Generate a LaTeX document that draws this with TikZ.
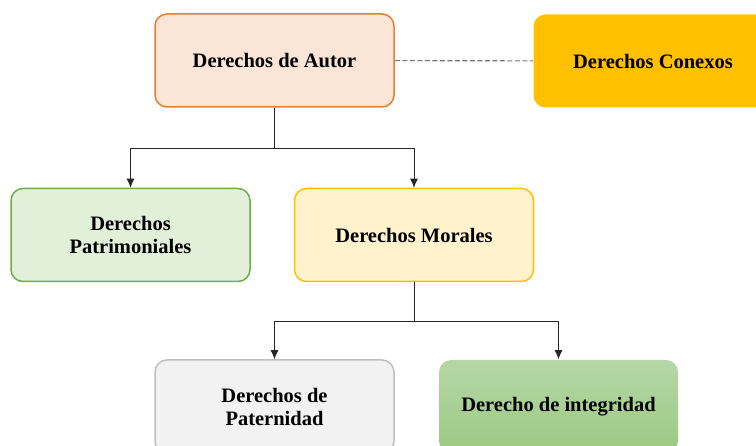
\documentclass[tikz,border=0pt]{standalone}
\usepackage{fontspec}
\setmainfont{Liberation Serif}
\usetikzlibrary{arrows.meta,positioning,calc}
\definecolor{autorfill}{HTML}{FBE5D6}
\definecolor{autordraw}{HTML}{ED7D31}
\definecolor{conexosfill}{HTML}{FFC000}
\definecolor{patrifill}{HTML}{E2F0D9}
\definecolor{patridraw}{HTML}{70AD47}
\definecolor{moralfill}{HTML}{FFF2CC}
\definecolor{moraldraw}{HTML}{FFC000}
\definecolor{paterfill}{HTML}{F2F2F2}
\definecolor{paterdraw}{HTML}{BFBFBF}
\definecolor{integtop}{HTML}{B5D7A6}
\definecolor{integbot}{HTML}{9CC983}
\definecolor{lineagray}{HTML}{767676}
\tikzset{
    derecho/.style={rectangle, rounded corners=12pt, line width=1.5pt, minimum width=239pt, minimum height=93pt, align=center, font=\fontsize{20.5}{23}\selectfont\bfseries},
    autorbox/.style={derecho, draw=autordraw, fill=autorfill},
    conexobox/.style={derecho, fill=conexosfill},
    patribox/.style={derecho, draw=patridraw, fill=patrifill},
    moralbox/.style={derecho, draw=moraldraw, fill=moralfill},
    paterbox/.style={derecho, draw=paterdraw, fill=paterfill},
    integbox/.style={derecho, top color=integtop, bottom color=integbot},
    connection/.style={line width=0.9pt, color=black!85, -{Latex[length=9pt,width=8pt]}},
    relacion/.style={line width=1.1pt, dash pattern=on 5pt off 2.5pt, color=lineagray}
}
\begin{document}
\begin{tikzpicture}[x=1pt, y=-1pt]
    \useasboundingbox (0,0) rectangle (756,446);
    % Top level
    \node[autorbox] (autor) at (274.5,60.5) {Derechos de Autor};
    \node[conexobox] (conexos) at (653,61) {Derechos Conexos};

    % Second level
    \node[patribox] (patri) at (130.5,235) {Derechos\\Patrimoniales};
    \node[moralbox] (moral) at (414,235) {Derechos Morales};

    % Third level
    \node[paterbox] (pater) at (274.5,406.5) {Derechos de\\Paternidad};
    \node[integbox] (integ) at (558.5,406.5) {Derecho de integridad};

    % Branch points
    \coordinate (split1) at (274.5,148);
    \coordinate (split2) at (414,321);

    % Connections
    \draw[relacion] (autor) -- (conexos);
    \draw[connection, -] (autor.south) -- (split1);
    \draw[connection] (split1) -| (patri.north);
    \draw[connection] (split1) -| (moral.north);
    \draw[connection, -] (moral.south) -- (split2);
    \draw[connection] (split2) -| (pater.north);
    \draw[connection] (split2) -| (integ.north);
\end{tikzpicture}
\end{document}
